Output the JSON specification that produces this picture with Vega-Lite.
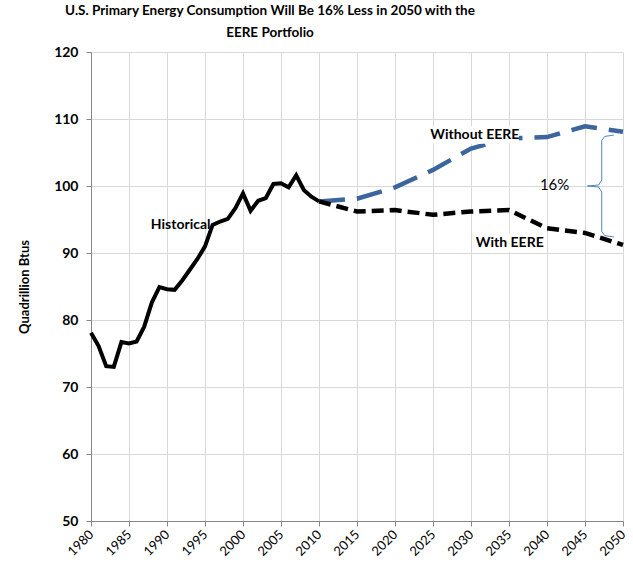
{
  "$schema": "https://vega.github.io/schema/vega-lite/v6.json",
  "autosize": "none",
  "width": 532,
  "height": 469,
  "padding": {"left": 91, "top": 52, "right": 10, "bottom": 55},
  "background": "white",
  "title": {
    "text": ["U.S. Primary Energy Consumption  Will Be 16% Less in 2050 with the", "EERE Portfolio"],
    "font": "Lato",
    "fontSize": 13.5,
    "fontWeight": "bold",
    "color": "black",
    "lineHeight": 22,
    "anchor": "middle",
    "dx": -87,
    "offset": 6
  },
  "datasets": {
    "energy": [
      {"series": "Historical", "year": 1980, "value": 78.1},
      {"series": "Historical", "year": 1981, "value": 76.1},
      {"series": "Historical", "year": 1982, "value": 73.1},
      {"series": "Historical", "year": 1983, "value": 73.0},
      {"series": "Historical", "year": 1984, "value": 76.7},
      {"series": "Historical", "year": 1985, "value": 76.5},
      {"series": "Historical", "year": 1986, "value": 76.8},
      {"series": "Historical", "year": 1987, "value": 79.0},
      {"series": "Historical", "year": 1988, "value": 82.6},
      {"series": "Historical", "year": 1989, "value": 84.9},
      {"series": "Historical", "year": 1990, "value": 84.6},
      {"series": "Historical", "year": 1991, "value": 84.5},
      {"series": "Historical", "year": 1992, "value": 85.9},
      {"series": "Historical", "year": 1993, "value": 87.5},
      {"series": "Historical", "year": 1994, "value": 89.1},
      {"series": "Historical", "year": 1995, "value": 91.0},
      {"series": "Historical", "year": 1996, "value": 94.2},
      {"series": "Historical", "year": 1997, "value": 94.7},
      {"series": "Historical", "year": 1998, "value": 95.1},
      {"series": "Historical", "year": 1999, "value": 96.7},
      {"series": "Historical", "year": 2000, "value": 98.9},
      {"series": "Historical", "year": 2001, "value": 96.3},
      {"series": "Historical", "year": 2002, "value": 97.8},
      {"series": "Historical", "year": 2003, "value": 98.2},
      {"series": "Historical", "year": 2004, "value": 100.3},
      {"series": "Historical", "year": 2005, "value": 100.4},
      {"series": "Historical", "year": 2006, "value": 99.8},
      {"series": "Historical", "year": 2007, "value": 101.6},
      {"series": "Historical", "year": 2008, "value": 99.4},
      {"series": "Historical", "year": 2009, "value": 98.4},
      {"series": "Historical", "year": 2010, "value": 97.7},
      {"series": "Without EERE", "year": 2010, "value": 97.7},
      {"series": "Without EERE", "year": 2015, "value": 98.1},
      {"series": "Without EERE", "year": 2020, "value": 99.8},
      {"series": "Without EERE", "year": 2025, "value": 102.4},
      {"series": "Without EERE", "year": 2030, "value": 105.6},
      {"series": "Without EERE", "year": 2035, "value": 107.1},
      {"series": "Without EERE", "year": 2040, "value": 107.3},
      {"series": "Without EERE", "year": 2045, "value": 108.9},
      {"series": "Without EERE", "year": 2050, "value": 108.1},
      {"series": "With EERE", "year": 2010, "value": 97.7},
      {"series": "With EERE", "year": 2015, "value": 96.2},
      {"series": "With EERE", "year": 2020, "value": 96.4},
      {"series": "With EERE", "year": 2025, "value": 95.7},
      {"series": "With EERE", "year": 2030, "value": 96.2},
      {"series": "With EERE", "year": 2035, "value": 96.4},
      {"series": "With EERE", "year": 2040, "value": 93.7},
      {"series": "With EERE", "year": 2045, "value": 93.0},
      {"series": "With EERE", "year": 2050, "value": 91.2}
    ],
    "labels": [
      {"label": "Historical", "year": 1991.8, "value": 94.2},
      {"label": "Without EERE", "year": 2030.5, "value": 107.6},
      {"label": "With EERE", "year": 2035.1, "value": 91.5}
    ],
    "boxes": [
      {"x0": 2024.5, "x1": 2036.3, "y0": 106.3, "y1": 108.9},
      {"x0": 2030.2, "x1": 2040.0, "y0": 90.2, "y1": 92.8}
    ],
    "pct": [
      {"label": "16%", "year": 2041.0, "value": 100.1}
    ],
    "brace": [
      {"i": 1, "year": 2048.8, "value": 107.6},
      {"i": 2, "year": 2047.6, "value": 107.4},
      {"i": 3, "year": 2047.2, "value": 106.8},
      {"i": 4, "year": 2047.2, "value": 100.9},
      {"i": 5, "year": 2046.8, "value": 100.15},
      {"i": 6, "year": 2045.3, "value": 100.0},
      {"i": 7, "year": 2046.8, "value": 99.85},
      {"i": 8, "year": 2047.2, "value": 99.1},
      {"i": 9, "year": 2047.2, "value": 93.2},
      {"i": 10, "year": 2047.6, "value": 92.6},
      {"i": 11, "year": 2048.8, "value": 92.4}
    ]
  },
  "config": {
    "view": {"stroke": null},
    "axis": {
      "labelFont": "Lato",
      "titleFont": "Lato",
      "labelColor": "black",
      "titleColor": "black",
      "gridColor": "#d9d9d9",
      "gridWidth": 1,
      "gridOpacity": 1,
      "domainColor": "#868686",
      "tickColor": "#868686",
      "tickSize": 5
    },
    "text": {"font": "Lato"}
  },
  "encoding": {
    "x": {
      "field": "year", "type": "quantitative",
      "scale": {"domain": [1980, 2050], "nice": false, "zero": false},
      "axis": {
        "values": [1980, 1985, 1990, 1995, 2000, 2005, 2010, 2015, 2020, 2025, 2030, 2035, 2040, 2045, 2050],
        "tickCount": 40,
        "format": "d", "labelAngle": -45, "labelAlign": "right", "labelBaseline": "middle",
        "labelFontSize": 13, "labelPadding": 6, "labelOverlap": false, "labelBound": false, "labelFlush": false, "title": null
      }
    },
    "y": {
      "field": "value", "type": "quantitative",
      "scale": {"domain": [50, 120], "nice": false, "zero": false},
      "axis": {
        "values": [50, 60, 70, 80, 90, 100, 110, 120],
        "tickCount": 20,
        "labelFontSize": 14, "labelFontWeight": "bold", "labelPadding": 8, "labelOverlap": false,
        "title": "Quadrillion Btus", "titleFontSize": 13, "titleFontWeight": "bold", "titlePadding": 22
      }
    }
  },
  "layer": [
    {
      "data": {"name": "energy"},
      "transform": [{"filter": "datum.series === 'Historical'"}],
      "mark": {"type": "line", "color": "black", "strokeWidth": 4, "strokeJoin": "miter"}
    },
    {
      "data": {"name": "energy"},
      "transform": [{"filter": "datum.series === 'Without EERE'"}],
      "mark": {"type": "line", "color": "#3b659c", "strokeWidth": 4.5, "strokeDash": [26, 12]}
    },
    {
      "data": {"name": "energy"},
      "transform": [{"filter": "datum.series === 'With EERE'"}],
      "mark": {"type": "line", "color": "black", "strokeWidth": 4.5, "strokeDash": [12, 6]}
    },
    {
      "data": {"name": "brace"},
      "mark": {"type": "line", "color": "#4f86c6", "strokeWidth": 1},
      "encoding": {
        "order": {"field": "i", "type": "quantitative"}
      }
    },
    {
      "data": {"name": "boxes"},
      "mark": {"type": "rect", "color": "white", "opacity": 1},
      "encoding": {
        "x": {"field": "x0", "type": "quantitative"},
        "x2": {"field": "x1"},
        "y": {"field": "y0", "type": "quantitative"},
        "y2": {"field": "y1"}
      }
    },
    {
      "data": {"name": "labels"},
      "mark": {"type": "text", "fontSize": 14, "fontWeight": "bold", "color": "black", "baseline": "middle", "align": "center"},
      "encoding": {
        "text": {"field": "label"}
      }
    },
    {
      "data": {"name": "pct"},
      "mark": {"type": "text", "fontSize": 15, "fontWeight": "normal", "color": "black", "baseline": "middle", "align": "center"},
      "encoding": {
        "text": {"field": "label"}
      }
    }
  ]
}
